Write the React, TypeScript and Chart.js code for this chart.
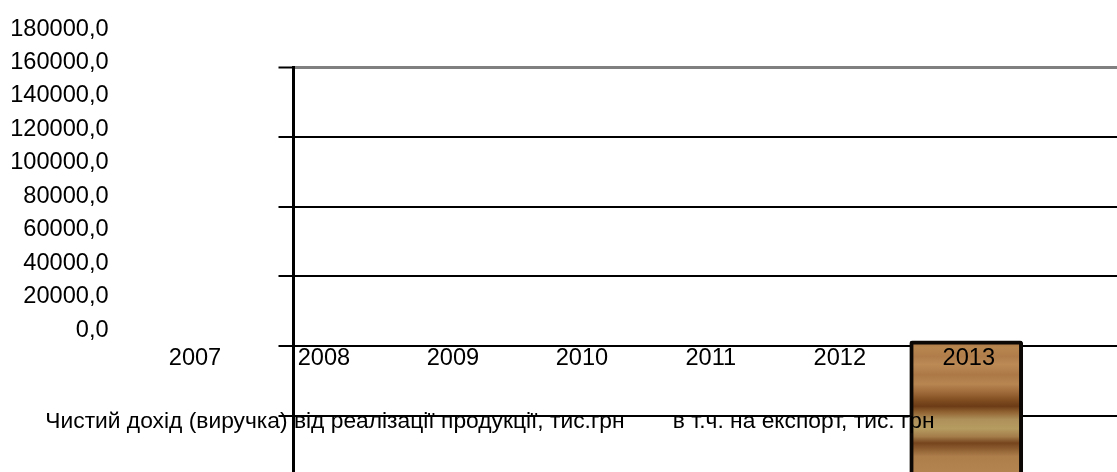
import React, { useEffect, useRef } from 'react';
import { Chart, registerables } from 'chart.js';

Chart.register(...registerables);

// ---- data ----
const YEARS = ['2007', '2008', '2009', '2010', '2011', '2012', '2013'];
const Y_TICKS = [0, 20000, 40000, 60000, 80000, 100000, 120000, 140000, 160000, 180000];
const GRID_TICKS = [0, 20000, 40000, 60000, 80000, 100000, 120000, 140000];
const SERIES = [
  'Чистий дохід (виручка) від реалізації продукції, тис.грн',
  'в т.ч. на експорт, тис. грн',
];
const REVENUE: (number | null)[] = [null, null, null, null, null, null, 61500];
const EXPORT: (number | null)[] = [null, null, null, null, null, null, null];

// ---- styles ----
const FONT = "'Liberation Sans', Arial, sans-serif";
const FS = 23.6;
const FS_LEG = 22.8;
const LEG_PAD = 10;
const LEG_BOX = 26.9;
const SHIFT = LEG_PAD + LEG_BOX + FS_LEG / 2 - 45; // text layer canvas offset
const WOOD_SPAN = 131;
const WOOD_STOPS: [number, string][] = [
  [0, '#a97244'],
  [0.05, '#b8864f'],
  [0.12, '#b07d4a'],
  [0.18, '#bb8a55'],
  [0.26, '#ac7946'],
  [0.33, '#b78651'],
  [0.4, '#9c6737'],
  [0.46, '#7c4a1e'],
  [0.5, '#6c3c17'],
  [0.54, '#8f602f'],
  [0.6, '#ae905a'],
  [0.67, '#b69c60'],
  [0.73, '#a47d4b'],
  [0.78, '#76441d'],
  [0.82, '#8a5a2e'],
  [0.88, '#ad7e4a'],
  [1, '#b48450'],
];

function toPoints(vals: (number | null)[]) {
  return YEARS.map((y, i) => ({ x: Number(y), y: vals[i] })).filter((d) => d.y !== null);
}

export default function App() {
  const plotRef = useRef<HTMLCanvasElement | null>(null);
  const textRef = useRef<HTMLCanvasElement | null>(null);

  useEffect(() => {
    if (!plotRef.current || !textRef.current) return;

    const wood = (c: any) => {
      const chart = c.chart;
      if (!chart.chartArea || !c.parsed || c.parsed.y == null) return '#b07a45';
      const top = chart.scales.y.getPixelForValue(c.parsed.y);
      const g = chart.ctx.createLinearGradient(0, top, 0, top + WOOD_SPAN);
      WOOD_STOPS.forEach(([o, col]) => g.addColorStop(o, col));
      return g;
    };

    const plot = new Chart(plotRef.current, {
      type: 'bar',
      data: {
        datasets: [
          {
            label: SERIES[0],
            data: toPoints(REVENUE) as any,
            backgroundColor: wood,
            borderColor: '#0c0805',
            borderWidth: 4,
            borderRadius: 3,
            borderSkipped: 'start',
            barThickness: 113,
            grouped: false,
          },
          {
            label: SERIES[1],
            data: toPoints(EXPORT) as any,
            backgroundColor: '#ffffff',
            borderWidth: 0,
            barThickness: 113,
            grouped: false,
          },
        ],
      },
      options: {
        responsive: false,
        animation: false,
        devicePixelRatio: 1,
        layout: { padding: { left: 278.5, top: 67.5, right: 0, bottom: 5 } },
        plugins: { legend: { display: false }, tooltip: { enabled: false } },
        scales: {
          x: { type: 'linear', display: false, offset: false, min: 2007.788, max: 2014.168 },
          y: {
            type: 'linear',
            min: 0,
            max: 140000,
            afterBuildTicks: (s: any) => {
              s.ticks = GRID_TICKS.map((v) => ({ value: v }));
            },
            ticks: { display: false },
            grid: {
              color: (c: any) => (c.index === GRID_TICKS.length - 1 ? '#808080' : '#000000'),
              lineWidth: (c: any) => (c.index === GRID_TICKS.length - 1 ? 3 : 2),
              drawTicks: true,
              tickLength: 15,
              tickColor: '#000000',
              tickWidth: 2,
            },
            border: { display: true, color: '#000000', width: 3 },
          },
        },
      } as any,
    });

    const legendHeight = FS_LEG + LEG_PAD + 10;
    const bottomPad = 29.1;
    const areaBottom = 330;
    const xAxisHeight = 472 - bottomPad - legendHeight - areaBottom;

    const text = new Chart(textRef.current, {
      type: 'bar',
      data: { labels: YEARS, datasets: [] },
      options: {
        responsive: false,
        animation: false,
        devicePixelRatio: 1,
        layout: { padding: { left: 0, top: 29, right: 148.2, bottom: bottomPad } },
        plugins: {
          tooltip: { enabled: false },
          legend: {
            display: true,
            position: 'bottom',
            align: 'start',
            labels: {
              font: { family: FONT, size: FS_LEG },
              color: '#000000',
              boxWidth: LEG_BOX,
              padding: LEG_PAD,
              generateLabels: () =>
                SERIES.map((t, i) => ({
                  text: t,
                  fillStyle: 'rgba(0,0,0,0)',
                  strokeStyle: 'rgba(0,0,0,0)',
                  lineWidth: 0,
                  hidden: false,
                  datasetIndex: i,
                  fontColor: '#000000',
                })),
            },
          },
        },
        scales: {
          x: {
            type: 'category',
            offset: false,
            grid: { display: false, drawTicks: false },
            border: { display: false },
            ticks: {
              font: { family: FONT, size: FS },
              color: '#000000',
              padding: 14.1,
              maxRotation: 0,
              autoSkip: false,
            },
            afterFit: (s: any) => {
              s.height = xAxisHeight;
            },
          },
          y: {
            type: 'linear',
            position: 'left',
            weight: 2,
            min: 0,
            max: 180000,
            afterBuildTicks: (s: any) => {
              s.ticks = Y_TICKS.map((v) => ({ value: v }));
            },
            ticks: {
              font: { family: FONT, size: FS },
              color: '#000000',
              padding: 0,
              autoSkip: false,
              callback: (v: any) => Number(v).toFixed(1).replace('.', ','),
            },
            grid: { display: false, drawTicks: false },
            border: { display: false },
            afterFit: (s: any) => {
              s.width = 108.3 + SHIFT;
            },
          },
          gap: {
            type: 'linear',
            position: 'left',
            weight: 1,
            min: 0,
            max: 1,
            ticks: { display: false },
            grid: { display: false, drawTicks: false },
            border: { display: false },
            afterFit: (s: any) => {
              s.width = 194.7 - 108.3;
            },
          },
        },
      } as any,
    });

    return () => {
      plot.destroy();
      text.destroy();
    };
  }, []);

  return (
    <div
      style={{
        position: 'fixed',
        left: 0,
        top: 0,
        width: 1117,
        height: 472,
        overflow: 'hidden',
        background: '#ffffff',
      }}
    >
      <canvas
        ref={plotRef}
        width={1117}
        height={560}
        style={{ position: 'absolute', left: 0, top: 0, width: 1117, height: 560 }}
      />
      <canvas
        ref={textRef}
        width={Math.round(1117 + SHIFT)}
        height={472}
        style={{ position: 'absolute', left: -SHIFT, top: 0, width: Math.round(1117 + SHIFT), height: 472 }}
      />
    </div>
  );
}
